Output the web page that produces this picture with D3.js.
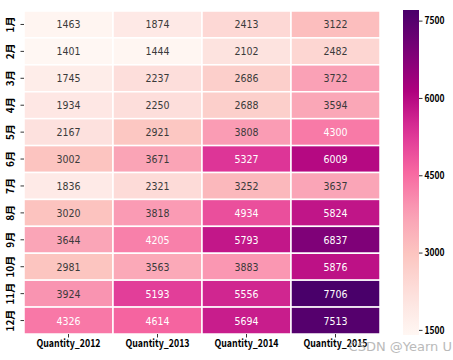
<!DOCTYPE html>
<html><head><meta charset="utf-8">
<script src="https://cdn.jsdelivr.net/npm/d3@7"></script>
<style>body{margin:0;background:#fff}svg{display:block}</style>
</head><body><svg id="c" width="453" height="360"></svg>
<script>
const months = ["1月","2月","3月","4月","5月","6月","7月","8月","9月","10月","11月","12月"];
const series = ["Quantity_2012","Quantity_2013","Quantity_2014","Quantity_2015"];
const q2012 = [1463,1401,1745,1934,2167,3002,1836,3020,3644,2981,3924,4326];
const q2013 = [1874,1444,2237,2250,2921,3671,2321,3818,4205,3563,5193,4614];
const q2014 = [2413,2102,2686,2688,3808,5327,3252,4934,5793,3883,5556,5694];
const q2015 = [3122,2482,3722,3594,4300,6009,3637,5824,6837,5876,7706,7513];
const cbTicks = [1500,3000,4500,6000,7500];
const rdpu = ["#fff7f3","#fde0dd","#fcc5c0","#fa9fb5","#f768a1","#dd3497","#ae017e","#7a0177","#49006a"];

const cols = [q2012,q2013,q2014,q2015];
const cells = [];
months.forEach((m,i)=>series.forEach((s,j)=>cells.push({m,s,v:cols[j][i]})));
const all = cells.map(d=>d.v);
const vmin = d3.min(all), vmax = d3.max(all);

const L=24,R=380,T=11,B=334;
const x = d3.scaleBand().domain(series).range([L,R]);
const y = d3.scaleBand().domain(months).range([T,B]);
const interp = d3.piecewise(d3.interpolateRgb, rdpu);
const color = v => interp((v-vmin)/(vmax-vmin));
function lum(c){const r=d3.rgb(c);const f=t=>{t/=255;return t<=0.03928?t/12.92:Math.pow((t+0.055)/1.055,2.4)};return 0.2126*f(r.r)+0.7152*f(r.g)+0.0722*f(r.b);}

const svg = d3.select("#c");
svg.append("g").selectAll("rect").data(cells).join("rect")
  .attr("x",d=>x(d.s)).attr("y",d=>y(d.m))
  .attr("width",x.bandwidth()).attr("height",y.bandwidth())
  .attr("fill",d=>color(d.v)).attr("stroke","#fff").attr("stroke-width",1.5);
svg.append("g").selectAll("text").data(cells).join("text")
  .attr("x",d=>x(d.s)+x.bandwidth()/2).attr("y",d=>y(d.m)+y.bandwidth()/2)
  .attr("text-anchor","middle").attr("dominant-baseline","central")
  .attr("font-family","'Liberation Sans Narrow','DejaVu Sans Condensed',sans-serif").attr("font-size",10.5)
  .attr("fill",d=>lum(color(d.v))>0.408?"#3a3a3a":"#fff").text(d=>d.v);

const font = "'Noto Sans CJK SC',sans-serif";
// y axis
const ya = svg.append("g").attr("transform",`translate(${L},0)`)
  .call(d3.axisLeft(y).tickSize(3.5).tickPadding(2));
ya.select(".domain").remove();
ya.selectAll("line").attr("stroke","#000").attr("stroke-width",0.8);
ya.selectAll(".tick text").attr("font-family",font).attr("font-weight","bold").attr("font-size",10).attr("fill","#000")
  .attr("transform","rotate(-90)").attr("text-anchor","middle").attr("x",0).attr("y",-10).attr("dy",0);
// x axis
const xa = svg.append("g").attr("transform",`translate(0,${B})`)
  .call(d3.axisBottom(x).tickSize(3.5).tickPadding(2));
xa.select(".domain").remove();
xa.selectAll("line").attr("stroke","#000").attr("stroke-width",0.8);
xa.selectAll("text").attr("font-family",font).attr("font-weight","bold").attr("font-size",10.5).attr("fill","#000")
  .attr("textLength",64).attr("lengthAdjust","spacingAndGlyphs");

// colorbar
const cbX=403, cbW=16, cbT=10, cbB=335;
const cy = d3.scaleLinear().domain([vmin,vmax]).range([cbB,cbT]);
const defs = svg.append("defs");
const grad = defs.append("linearGradient").attr("id","g").attr("x1",0).attr("y1",1).attr("x2",0).attr("y2",0);
d3.range(0,1.0001,0.05).forEach(t=>grad.append("stop").attr("offset",t).attr("stop-color",interp(t)));
svg.append("rect").attr("x",cbX).attr("y",cbT).attr("width",cbW).attr("height",cbB-cbT).attr("fill","url(#g)");
const ca = svg.append("g").attr("transform",`translate(${cbX+cbW},0)`)
  .call(d3.axisRight(cy).tickValues(cbTicks).tickFormat(d3.format("d")).tickSize(3.5).tickPadding(2));
ca.select(".domain").remove();
ca.selectAll("line").attr("stroke","#000").attr("stroke-width",0.8);
ca.selectAll("text").attr("font-family",font).attr("font-weight","bold").attr("font-size",10).attr("fill","#000")
  .attr("textLength",20).attr("lengthAdjust","spacingAndGlyphs");

svg.append("text").attr("x",452).attr("y",351).attr("text-anchor","end")
  .attr("font-family","'DejaVu Sans',sans-serif").attr("font-size",13).attr("fill","#aaa").attr("opacity",0.8).text("CSDN @Yearn U");
</script></body></html>
